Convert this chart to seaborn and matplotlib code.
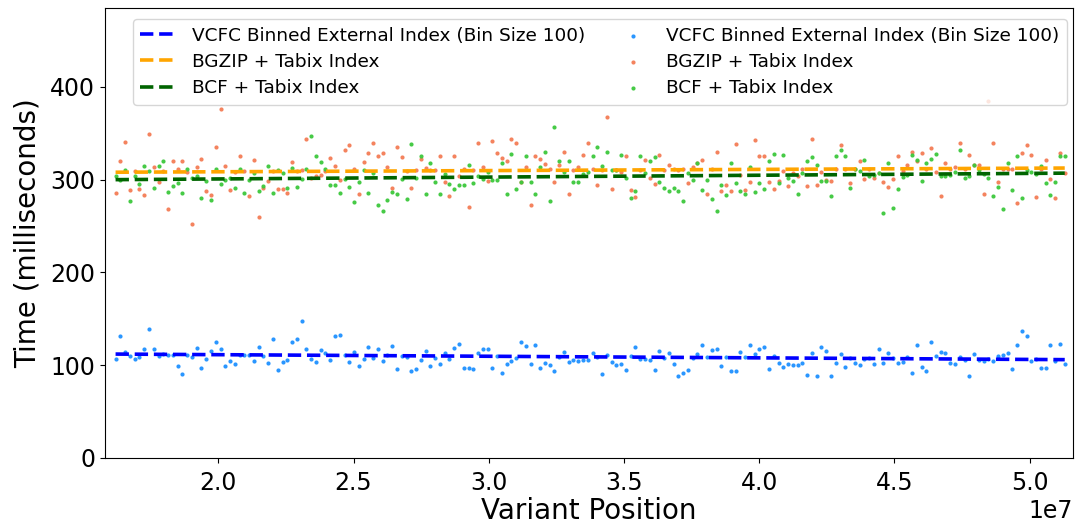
import numpy as np
import pandas as pd
import matplotlib
matplotlib.use("Agg")
import matplotlib.pyplot as plt
import seaborn as sns

# ---- data -------------------------------------------------------------
series_names = ["VCFC Binned External Index (Bin Size 100)",
                "BGZIP + Tabix Index",
                "BCF + Tabix Index"]

pos_start, pos_end, n_points = 1.62e7, 5.13e7, 200

vcfc_ms = [107, 131, 114, 110, 107, 109, 117, 139, 118, 110,
           112, 111, 111, 99, 91, 111, 109, 119, 97, 107,
           115, 125, 118, 99, 104, 101, 111, 111, 111, 104,
           120, 110, 102, 128, 95, 103, 106, 125, 128, 148,
           117, 107, 103, 116, 113, 106, 131, 133, 111, 103,
           114, 99, 107, 120, 108, 117, 105, 111, 121, 96,
           110, 109, 94, 96, 106, 115, 99, 108, 101, 113,
           107, 119, 123, 97, 97, 96, 113, 117, 118, 97,
           110, 92, 101, 104, 108, 125, 121, 101, 122, 97,
           102, 100, 94, 109, 114, 103, 106, 105, 106, 106,
           113, 109, 90, 111, 103, 100, 101, 95, 110, 120,
           107, 107, 106, 95, 115, 108, 113, 101, 88, 92,
           95, 108, 112, 122, 109, 116, 117, 99, 109, 94,
           94, 114, 109, 122, 112, 118, 120, 96, 110, 102,
           98, 101, 100, 100, 102, 89, 113, 88, 120, 115,
           88, 102, 112, 98, 108, 102, 100, 107, 108, 101,
           118, 102, 113, 108, 102, 103, 109, 92, 122, 98,
           94, 125, 110, 114, 113, 102, 101, 109, 106, 88,
           112, 106, 104, 107, 104, 110, 111, 113, 96, 122,
           137, 132, 104, 107, 97, 97, 122, 105, 123, 101]

bgzip_ms = [286, 320, 341, 289, 309, 290, 283, 349, 314, 297,
            309, 268, 320, 311, 320, 308, 252, 314, 322, 288,
            283, 335, 376, 315, 289, 308, 326, 309, 282, 321,
            260, 291, 299, 309, 290, 290, 286, 319, 309, 310,
            344, 302, 304, 305, 309, 323, 315, 300, 332, 337,
            311, 285, 319, 329, 339, 326, 329, 314, 291, 335,
            324, 309, 291, 310, 322, 313, 310, 310, 326, 298,
            282, 325, 304, 312, 270, 310, 339, 314, 299, 342,
            329, 323, 320, 344, 340, 298, 314, 273, 326, 322,
            317, 312, 298, 316, 330, 285, 310, 314, 327, 340,
            311, 294, 310, 368, 290, 310, 308, 326, 289, 281,
            310, 321, 302, 295, 327, 310, 316, 312, 310, 311,
            296, 314, 318, 321, 285, 311, 330, 288, 294, 288,
            338, 305, 289, 298, 343, 325, 326, 298, 290, 299,
            309, 293, 307, 304, 311, 293, 344, 294, 308, 300,
            299, 311, 337, 311, 296, 312, 320, 301, 311, 302,
            307, 298, 292, 301, 326, 309, 316, 330, 320, 329,
            312, 334, 308, 282, 318, 312, 314, 340, 312, 327,
            316, 316, 284, 385, 339, 298, 311, 312, 312, 275,
            329, 337, 327, 281, 312, 321, 301, 280, 329, 307]

bcf_ms = [304, 300, 310, 277, 304, 295, 315, 309, 291, 315,
          320, 287, 293, 296, 286, 312, 302, 304, 280, 299,
          278, 311, 295, 300, 302, 291, 312, 286, 300, 307,
          288, 293, 315, 286, 310, 307, 291, 313, 292, 301,
          312, 347, 325, 319, 312, 294, 294, 286, 301, 292,
          276, 298, 310, 286, 307, 273, 266, 278, 287, 285,
          301, 279, 338, 302, 325, 285, 318, 297, 285, 306,
          295, 290, 294, 294, 316, 296, 304, 301, 308, 300,
          300, 318, 284, 328, 290, 297, 326, 297, 285, 314,
          330, 277, 357, 320, 308, 320, 297, 297, 306, 308,
          325, 335, 315, 330, 310, 310, 327, 302, 280, 288,
          325, 307, 320, 324, 298, 291, 288, 291, 288, 277,
          307, 300, 318, 289, 300, 279, 266, 294, 283, 318,
          296, 288, 284, 314, 287, 296, 290, 320, 328, 296,
          327, 302, 299, 284, 307, 320, 324, 316, 299, 299,
          282, 325, 332, 325, 291, 311, 309, 321, 304, 305,
          307, 264, 318, 269, 290, 303, 305, 327, 321, 299,
          318, 322, 328, 304, 304, 305, 308, 332, 302, 304,
          316, 310, 306, 302, 282, 292, 268, 318, 289, 325,
          280, 310, 308, 306, 315, 296, 283, 298, 326, 325]

# linear trend lines (value at first and last position)
fit_positions = [pos_start, pos_end]
vcfc_fit = [112, 106]
bgzip_fit = [308, 312.5]
bcf_fit = [300, 307]

# ---- styling ----------------------------------------------------------
line_colors = ["#0000ff", "#ffa500", "#006400"]
point_colors = ["#1e90ff", "#f47c55", "#3cc83c"]

positions = np.linspace(pos_start, pos_end, n_points)
df = pd.DataFrame({"position": positions, "vcfc": vcfc_ms,
                   "bgzip": bgzip_ms, "bcf": bcf_ms})
fit_df = pd.DataFrame({"position": fit_positions, "vcfc": vcfc_fit,
                       "bgzip": bgzip_fit, "bcf": bcf_fit})
keys = ["vcfc", "bgzip", "bcf"]

plt.rcParams["font.family"] = ["DejaVu Sans"]
fig = plt.figure(figsize=(10.75, 5.23), dpi=100)
ax = fig.add_axes([0.0977, 0.1243, 0.9003, 0.8604])

for k, name, c in zip(keys, series_names, line_colors):
    sns.lineplot(data=fit_df, x="position", y=k, ax=ax, color=c,
                 linestyle="--", linewidth=2.6, label=name, zorder=3)
for k, name, c in zip(keys, series_names, point_colors):
    sns.scatterplot(data=df, x="position", y=k, ax=ax, color=c, s=9,
                    linewidth=0, label=name, zorder=2, alpha=0.95)

ax.set_xlim(1.581e7, 5.16e7)
ax.set_ylim(0, 485)
ax.set_yticks([0, 100, 200, 300, 400])
ax.set_xticks([2.0e7, 2.5e7, 3.0e7, 3.5e7, 4.0e7, 4.5e7, 5.0e7])
ax.tick_params(labelsize=17)
ax.tick_params(axis="x", pad=6)
ax.xaxis.get_offset_text().set_fontsize(17)
ax.set_xlabel("Variant Position", fontsize=20, labelpad=1)
ax.set_ylabel("Time (milliseconds)", fontsize=20, labelpad=6)

handles, labels = ax.get_legend_handles_labels()
ax.legend(handles, labels, ncol=2, loc="upper left", mode="expand",
          bbox_to_anchor=(0.029, 0.0, 0.965, 0.975), fontsize=13.3,
          handlelength=2.0, borderaxespad=0.0, labelspacing=0.45)

fig.savefig("out.png", dpi=100)
